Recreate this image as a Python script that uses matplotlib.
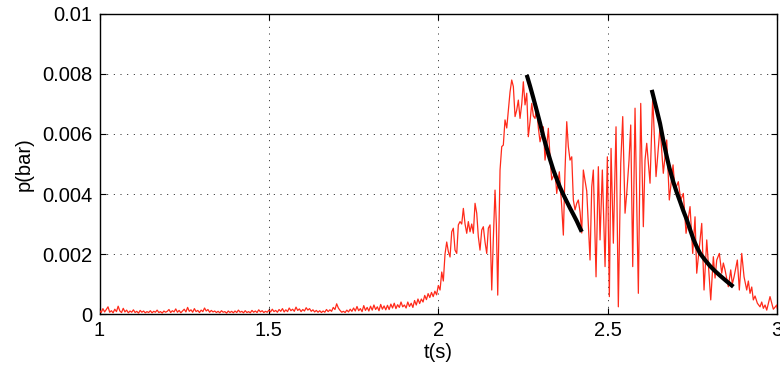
import matplotlib
matplotlib.use("Agg")
import matplotlib.pyplot as plt
import numpy as np

plt.rcParams['font.family'] = ['Liberation Sans', 'DejaVu Sans']

# ---- data (pressure values in units of 1e-4 bar) ----
base_t = [
    1.000, 1.005, 1.010, 1.015, 1.020, 1.025, 1.030, 1.035, 1.040, 1.045,
    1.050, 1.055, 1.060, 1.065, 1.070, 1.075, 1.080, 1.085, 1.090, 1.095,
    1.100, 1.105, 1.110, 1.115, 1.120, 1.125, 1.130, 1.135, 1.140, 1.145,
    1.150, 1.155, 1.160, 1.165, 1.170, 1.175, 1.180, 1.185, 1.190, 1.195,
    1.200, 1.205, 1.210, 1.215, 1.220, 1.225, 1.230, 1.235, 1.240, 1.245,
    1.250, 1.255, 1.260, 1.265, 1.270, 1.275, 1.280, 1.285, 1.290, 1.295,
    1.300, 1.305, 1.310, 1.315, 1.320, 1.325, 1.330, 1.335, 1.340, 1.345,
    1.350, 1.355, 1.360, 1.365, 1.370, 1.375, 1.380, 1.385, 1.390, 1.395,
    1.400, 1.405, 1.410, 1.415, 1.420, 1.425, 1.430, 1.435, 1.440, 1.445,
    1.450, 1.455, 1.460, 1.465, 1.470, 1.475, 1.480, 1.485, 1.490, 1.495,
    1.500, 1.505, 1.510, 1.515, 1.520, 1.525, 1.530, 1.535, 1.540, 1.545,
    1.550, 1.555, 1.560, 1.565, 1.570, 1.575, 1.580, 1.585, 1.590, 1.595,
    1.600, 1.605, 1.610, 1.615, 1.620, 1.625, 1.630, 1.635, 1.640, 1.645,
    1.650, 1.655, 1.660, 1.665, 1.670, 1.675, 1.680, 1.685, 1.690, 1.695,
    1.700, 1.705, 1.710, 1.715, 1.720, 1.725, 1.730, 1.735, 1.740, 1.745,
    1.750, 1.755, 1.760, 1.765, 1.770, 1.775, 1.780, 1.785, 1.790, 1.795,
    1.800, 1.805, 1.810, 1.815, 1.820, 1.825, 1.830, 1.835, 1.840, 1.845,
    1.850, 1.855, 1.860, 1.865, 1.870, 1.875, 1.880, 1.885, 1.890, 1.895,
    1.900, 1.905, 1.910, 1.915, 1.920, 1.925, 1.930, 1.935, 1.940, 1.945,
    1.950, 1.955, 1.960, 1.965, 1.970, 1.975, 1.980, 1.985, 1.990, 1.995,
]
base_p = [
    1.2, 0.5, 1.8, 0.7, 1.5, 2.4, 0.6, 1.1, 0.4, 1.6,
    0.8, 2.6, 1.0, 0.5, 1.9, 0.7, 1.3, 0.4, 1.0, 0.6,
    1.4, 0.5, 0.9, 0.3, 1.2, 0.6, 1.0, 0.4, 0.8, 0.5,
    1.1, 0.4, 0.9, 0.6, 1.3, 0.5, 0.8, 0.3, 1.0, 0.6,
    0.9, 1.5, 0.5, 1.1, 0.7, 1.7, 0.6, 1.2, 0.4, 1.0,
    1.6, 0.7, 2.2, 0.9, 1.4, 0.6, 1.8, 0.8, 1.2, 0.5,
    1.3, 0.8, 2.0, 1.0, 1.5, 0.6, 1.2, 0.7, 1.0, 0.5,
    0.9, 0.4, 1.1, 0.6, 0.8, 0.3, 1.0, 0.5, 0.9, 0.4,
    1.0, 0.5, 1.3, 0.6, 0.9, 0.4, 1.1, 0.5, 0.8, 0.4,
    1.2, 0.6, 1.0, 0.5, 1.4, 0.7, 1.1, 0.5, 0.9, 0.6,
    1.3, 0.7, 1.6, 0.8, 1.2, 0.6, 1.5, 0.9, 1.8, 0.7,
    1.4, 0.8, 2.0, 1.1, 1.6, 0.9, 2.3, 1.2, 1.7, 0.8,
    1.5, 1.0, 2.1, 1.3, 1.8, 0.9, 1.4, 0.7, 1.2, 0.6,
    1.1, 0.5, 1.0, 0.6, 1.5, 0.8, 1.4, 0.9, 2.2, 1.5,
    3.4, 2.0, 1.2, 0.6, 0.9, 0.5, 1.3, 0.7, 1.6, 0.9,
    2.0, 1.0, 2.5, 1.1, 1.8, 0.8, 2.8, 1.2, 2.2, 1.0,
    2.6, 1.3, 3.0, 1.5, 2.4, 1.1, 3.2, 1.6, 2.7, 1.4,
    2.9, 1.5, 3.3, 2.0, 3.6, 1.8, 3.1, 2.2, 4.0, 2.4,
    3.0, 2.0, 4.0, 2.5, 3.6, 2.2, 4.5, 3.0, 5.0, 3.5,
    5.0, 4.0, 6.2, 4.8, 6.8, 5.5, 7.2, 5.8, 7.6, 6.4,
]

event_t = [
    2.0001, 2.0052, 2.0102, 2.0149, 2.0199, 2.0249, 2.0297, 2.0347, 2.0397, 2.0444,
    2.0494, 2.0545, 2.0592, 2.0642, 2.0692, 2.0740, 2.0790, 2.0840, 2.0887, 2.0937,
    2.0987, 2.1035, 2.1085, 2.1135, 2.1182, 2.1232, 2.1283, 2.1330, 2.1380, 2.1430,
    2.1478, 2.1528, 2.1578, 2.1625, 2.1675, 2.1714, 2.1755, 2.1823, 2.1873, 2.1920,
    2.1970, 2.2021, 2.2068, 2.2118, 2.2168, 2.2216, 2.2266, 2.2316, 2.2363, 2.2413,
    2.2464, 2.2511, 2.2561, 2.2611, 2.2658, 2.2708, 2.2759, 2.2806, 2.2856, 2.2906,
    2.2954, 2.3004, 2.3054, 2.3101, 2.3151, 2.3202, 2.3249, 2.3299, 2.3349, 2.3397,
    2.3447, 2.3497, 2.3535, 2.3573, 2.3644, 2.3692, 2.3742, 2.3792, 2.3839, 2.3889,
    2.3940, 2.3987, 2.4037, 2.4087, 2.4134, 2.4185, 2.4235, 2.4282, 2.4382, 2.4480,
    2.4530, 2.4577, 2.4657, 2.4725, 2.4775, 2.4843, 2.4923, 2.4991, 2.5050, 2.5100,
    2.5168, 2.5247, 2.5315, 2.5386, 2.5445, 2.5513, 2.5563, 2.5631, 2.5681, 2.5740,
    2.5808, 2.5906, 2.5976, 2.6053, 2.6103, 2.6153, 2.6251, 2.6330, 2.6428, 2.6546,
    2.6643, 2.6744, 2.6820, 2.6930, 2.6989, 2.7086, 2.7157, 2.7234, 2.7314, 2.7432,
    2.7511, 2.7579, 2.7629, 2.7777, 2.7845, 2.7925, 2.8043, 2.8120, 2.8170, 2.8220,
    2.8297, 2.8367, 2.8415, 2.8465, 2.8562, 2.8633, 2.8680, 2.8731, 2.8828, 2.8887,
    2.8958, 2.9026, 2.9105, 2.9153, 2.9203, 2.9253, 2.9300, 2.9351, 2.9419, 2.9498,
    2.9548, 2.9596, 2.9646, 2.9696, 2.9793, 2.9891, 2.9991, 3.0000,
]
event_p = [
    9.5, 8.0, 14.0, 11.0, 20.0, 24.0, 20.8, 19.0, 27.4, 28.6,
    21.3, 20.2, 29.7, 30.8, 30.0, 35.2, 30.0, 26.9, 30.8, 27.4,
    30.0, 26.9, 36.9, 33.6, 25.8, 21.3, 28.0, 29.1, 24.0, 20.2,
    28.6, 29.7, 8.0, 25.0, 41.3, 30.0, 6.3, 48.0, 55.8, 56.3,
    64.7, 62.0, 68.0, 74.0, 78.0, 75.8, 65.8, 68.0, 71.3, 65.2,
    70.0, 77.4, 69.7, 73.6, 59.1, 64.0, 70.2, 66.0, 65.2, 69.1,
    62.0, 57.4, 60.0, 62.4, 51.3, 56.0, 61.9, 52.4, 44.7, 46.0,
    47.4, 40.2, 44.0, 47.4, 35.8, 26.3, 48.0, 64.1, 55.8, 51.3,
    52.4, 38.0, 34.7, 36.9, 38.0, 34.0, 27.0, 48.0, 41.0, 18.0,
    42.4, 48.0, 12.4, 49.1, 24.7, 48.0, 15.8, 52.4, 5.8, 55.2,
    23.6, 62.4, 2.4, 50.2, 65.8, 33.6, 40.2, 51.3, 63.0, 15.8,
    68.6, 6.9, 70.2, 29.1, 51.3, 56.9, 43.6, 72.4, 45.8, 62.4,
    46.9, 58.0, 38.0, 49.7, 41.3, 44.1, 38.0, 40.2, 26.9, 35.8,
    20.2, 32.4, 13.6, 30.2, 8.0, 24.7, 4.7, 19.1, 12.0, 18.0,
    20.2, 13.6, 17.0, 14.7, 9.1, 14.7, 10.0, 12.4, 18.0, 8.0,
    20.2, 12.4, 8.0, 11.0, 6.9, 9.0, 4.7, 6.0, 3.6, 2.4,
    4.0, 1.9, 3.0, 1.3, 5.8, 1.6, 3.0, 2.0,
]

fit1_t = [2.2611, 2.2708, 2.2806, 2.2906, 2.3004, 2.3101, 2.3202, 2.3299,
          2.3397, 2.3497, 2.3594, 2.3692, 2.3792, 2.3889, 2.3987, 2.4087, 2.4235]
fit1_p = [79.7, 76.0, 72.0, 67.8, 63.6, 59.2, 55.2, 51.5,
          48.0, 45.0, 42.2, 39.8, 37.5, 35.3, 33.2, 31.0, 27.4]

fit2_t = [2.6301, 2.6428, 2.6546, 2.6643, 2.6744, 2.6820, 2.6939, 2.7037, 2.7137,
          2.7234, 2.7334, 2.7432, 2.7529, 2.7629, 2.7727, 2.7874, 2.8022,
          2.8170, 2.8317, 2.8513, 2.8710]
fit2_p = [74.7, 69.0, 63.5, 57.8, 52.5, 48.8, 44.0, 40.6, 37.5,
          34.4, 31.5, 28.2, 25.0, 22.4, 20.2, 18.0, 16.0,
          14.3, 12.8, 10.9, 9.1]

x_ticks = [1, 1.5, 2, 2.5, 3]
x_ticklabels = ['1', '1.5', '2', '2.5', '3']
y_ticks = [0, 0.002, 0.004, 0.006, 0.008, 0.01]
y_ticklabels = ['0', '0.002', '0.004', '0.006', '0.008', '0.01']

scale = 1e-4

# ---- figure ----
fig = plt.figure(figsize=(7.8, 3.71), dpi=100)
ax = fig.add_axes([0.1276, 0.1536, 0.8686, 0.8087])

red_t = np.array(base_t + event_t)
red_p = np.array(base_p + event_p) * scale
ax.plot(red_t, red_p, color='#ff2a1a', lw=0.9, zorder=3)
for ft, fp in ((fit1_t, fit1_p), (fit2_t, fit2_p)):
    ax.plot(ft, np.array(fp) * scale, color='black', lw=3.0, zorder=4,
            solid_capstyle='butt', solid_joinstyle='round')

ax.set_xlim(1, 3)
ax.set_ylim(0, 0.01)
ax.set_xticks(x_ticks)
ax.set_xticklabels(x_ticklabels)
ax.set_yticks(y_ticks)
ax.set_yticklabels(y_ticklabels)

ax.grid(True, color='black', linestyle=(0, (1.2, 6.8)), linewidth=0.6)
ax.tick_params(direction='in', length=4, width=0.8, top=True, right=True,
               labelsize=14.5, pad=5, colors='black')
for s in ax.spines.values():
    s.set_linewidth(1.0)
    s.set_color('black')

ax.set_xlabel('t(s)', fontsize=14.5, labelpad=2)
ax.set_ylabel('p(bar)', fontsize=14.5, labelpad=6)

fig.savefig('out.png', dpi=100)
